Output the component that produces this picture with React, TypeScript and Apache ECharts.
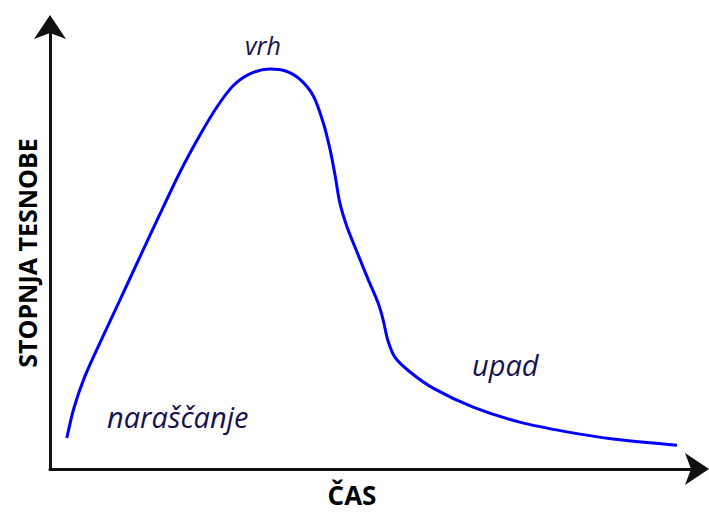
import React, { useEffect, useRef } from "react";
import * as echarts from "echarts";

// Time (0-100) and anxiety level (0-100)
const timeValues = [
  2.6, 3.7, 5.4, 7.7, 10.8, 13.9, 17.0, 20.1, 23.2, 25.8, 28.3, 30.9, 34.0,
  36.3, 38.6, 40.7, 42.2, 43.3, 44.1, 44.8, 45.9, 47.5, 49.2, 50.7, 51.5,
  52.2, 53.3, 55.6, 59.2, 65.4, 72.6, 79.9, 87.0, 96.9,
];
const anxietyValues = [
  7.0, 13.8, 21.0, 28.5, 38.2, 48.0, 57.7, 67.2, 75.6, 81.9, 86.7, 89.4, 90.5,
  90.1, 88.2, 84.4, 78.5, 72.2, 66.1, 60.2, 54.8, 48.9, 42.8, 37.6, 33.7,
  29.2, 25.3, 22.0, 18.3, 14.0, 10.6, 8.4, 6.8, 5.4,
];

const xTitle = "ČAS";
const yTitle = "STOPNJA TESNOBE";
const labelPeak = "vrh";
const labelRise = "naraščanje";
const labelFall = "upad";

export default function App() {
  const ref = useRef<HTMLDivElement>(null);
  useEffect(() => {
    if (!ref.current) return;
    const chart = echarts.init(ref.current, undefined, { renderer: "svg" });
    const data = timeValues.map((t, i) => [t, anxietyValues[i]]);
    const axisCommon = {
      type: "value" as const,
      min: 0,
      max: 100,
      axisLine: {
        show: true,
        symbol: ["none", "arrow"],
        symbolSize: [24, 24],
        symbolOffset: [0, 12],
        lineStyle: { color: "#111111", width: 3 },
      },
      axisTick: { show: false },
      axisLabel: { show: false },
      splitLine: { show: false },
    };
    const italic = {
      fontFamily: "Open Sans",
      fontStyle: "italic",
      fill: "#16124f",
    };
    chart.setOption({
      animation: false,
      backgroundColor: "#ffffff",
      grid: { left: 50, right: 12, top: 27, bottom: 43 },
      xAxis: axisCommon,
      yAxis: axisCommon,
      series: [
        {
          type: "line",
          data,
          smooth: 0.3,
          showSymbol: false,
          clip: false,
          lineStyle: { color: "#0000ff", width: 3 },
        },
      ],
      graphic: [
        {
          type: "text",
          x: 245,
          y: 45,
          style: { ...italic, text: labelPeak, fontSize: 25, verticalAlign: "middle" },
        },
        {
          type: "text",
          x: 472,
          y: 364,
          style: { ...italic, text: labelFall, fontSize: 29, verticalAlign: "middle" },
        },
        {
          type: "text",
          x: 107,
          y: 416,
          style: { ...italic, text: labelRise, fontSize: 29, verticalAlign: "middle" },
        },
        {
          type: "text",
          x: 352,
          y: 495,
          style: {
            text: xTitle,
            fontFamily: "Open Sans",
            fontWeight: "bold",
            fontSize: 26,
            lineHeight: 26,
            fill: "#000000",
            align: "center",
            verticalAlign: "middle",
          },
        },
        {
          type: "text",
          x: 27,
          y: 253,
          rotation: Math.PI / 2,
          style: {
            text: yTitle,
            fontFamily: "Open Sans",
            fontWeight: "bold",
            fontSize: 25,
            fill: "#000000",
            align: "center",
            verticalAlign: "middle",
          },
        },
      ],
    });
    return () => chart.dispose();
  }, []);
  return (
    <div
      ref={ref}
      style={{ position: "absolute", left: 0, top: 0, width: 709, height: 512 }}
    />
  );
}
